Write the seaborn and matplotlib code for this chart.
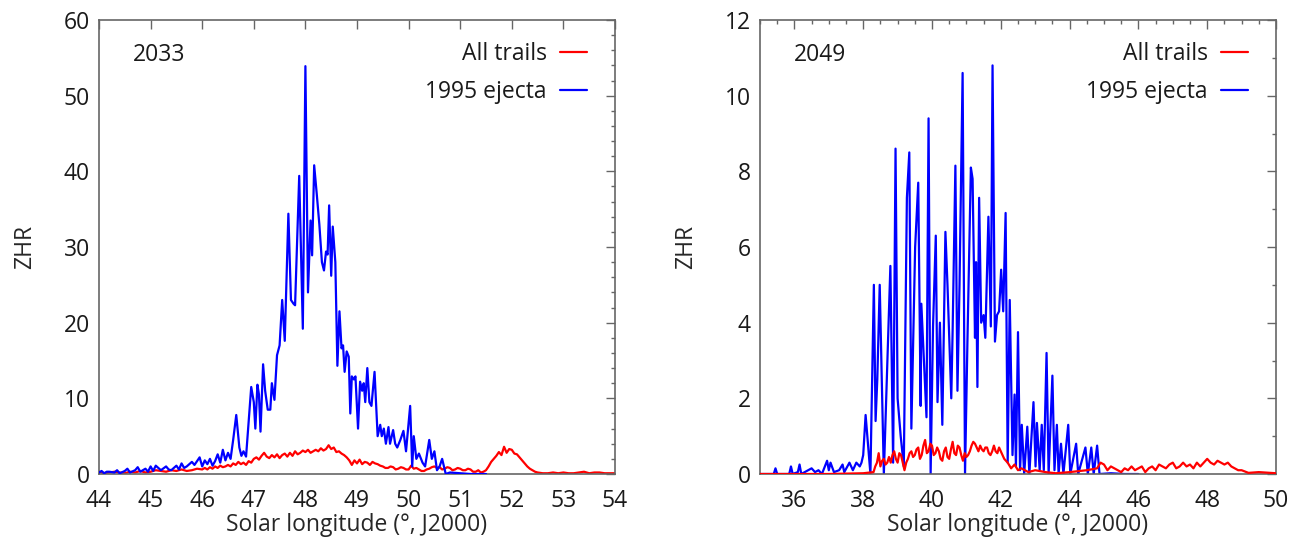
import numpy as np
import pandas as pd
import matplotlib
matplotlib.use("Agg")
import matplotlib.pyplot as plt
from matplotlib.ticker import MultipleLocator
from matplotlib.lines import Line2D
import seaborn as sns

# ---- 2033: 1995 ejecta ----
lon_2033_ejecta = [
    44.00, 44.05, 44.10, 44.15, 44.20, 44.30, 44.35, 44.40, 44.50, 44.55, 44.60,
    44.70, 44.75, 44.80, 44.90, 44.95, 45.00, 45.05, 45.10, 45.15, 45.20, 45.30,
    45.35, 45.40, 45.50, 45.55, 45.60, 45.65, 45.70, 45.80, 45.85, 45.95, 46.00,
    46.05, 46.10, 46.15, 46.20, 46.25, 46.30, 46.35, 46.40, 46.45, 46.50, 46.55,
    46.60, 46.66, 46.72, 46.76, 46.80, 46.85, 46.90, 46.95, 47.00, 47.03, 47.07,
    47.10, 47.13, 47.18, 47.22, 47.27, 47.32, 47.35, 47.40, 47.45, 47.50, 47.55,
    47.60, 47.67, 47.72, 47.77, 47.80, 47.88, 47.95, 48.00, 48.05, 48.10, 48.13,
    48.17, 48.22, 48.27, 48.32, 48.36, 48.40, 48.43, 48.46, 48.50, 48.53, 48.58,
    48.62, 48.66, 48.70, 48.73, 48.76, 48.80, 48.84, 48.87, 48.90, 48.94, 48.97,
    49.02, 49.06, 49.10, 49.13, 49.16, 49.20, 49.24, 49.28, 49.34, 49.40, 49.45,
    49.48, 49.52, 49.56, 49.61, 49.64, 49.70, 49.74, 49.78, 49.84, 49.90, 49.95,
    50.03, 50.07, 50.10, 50.15, 50.20, 50.27, 50.32, 50.40, 50.45, 50.50, 50.55,
    50.60, 50.65, 50.72, 50.80, 51.00, 51.20, 51.50,
]
zhr_2033_ejecta = [
    0.2, 0.4, 0.1, 0.3, 0.3, 0.2, 0.5, 0.1, 0.4, 0.7, 0.2,
    0.5, 0.9, 0.3, 0.7, 0.3, 1.0, 0.4, 1.1, 0.8, 0.5, 1.0,
    0.6, 0.5, 1.1, 0.6, 1.4, 0.8, 1.0, 1.6, 1.2, 2.2, 1.0,
    1.8, 1.3, 2.0, 1.1, 1.7, 2.6, 1.5, 3.2, 1.8, 2.8, 2.0,
    4.5, 7.8, 3.5, 2.4, 3.0, 2.3, 7.0, 11.5, 9.5, 6.0, 11.8,
    10.5, 5.6, 14.5, 11.0, 8.5, 8.5, 12.0, 9.8, 15.7, 17.0, 23.0,
    17.6, 34.4, 23.0, 22.5, 22.3, 39.4, 19.2, 53.9, 24.0, 33.5, 28.9,
    40.8, 37.0, 33.0, 28.0, 26.9, 29.4, 29.0, 35.5, 26.2, 32.7, 28.0,
    14.3, 21.5, 16.6, 17.0, 13.5, 16.2, 15.5, 8.0, 12.9, 12.5, 12.9,
    6.0, 12.2, 11.0, 12.0, 9.5, 14.0, 9.5, 9.0, 13.5, 5.0, 6.5,
    5.0, 6.0, 4.0, 6.2, 4.0, 5.8, 4.0, 3.5, 4.5, 5.7, 3.0,
    9.0, 1.0, 5.0, 2.0, 2.7, 1.5, 1.0, 4.5, 2.0, 3.0, 0.5,
    1.0, 2.0, 0.0, 0.2, 0.1, 0.0, 0.0,
]

# ---- 2033: all trails ----
lon_2033_all = [
    44.00, 44.10, 44.20, 44.30, 44.40, 44.50, 44.60, 44.70, 44.80, 44.90,
    45.00, 45.10, 45.20, 45.30, 45.40, 45.50, 45.60, 45.70, 45.80, 45.90,
    46.00, 46.05, 46.10, 46.15, 46.20, 46.25, 46.30, 46.35, 46.40, 46.45,
    46.50, 46.55, 46.60, 46.65, 46.70, 46.75, 46.80, 46.85, 46.90, 46.95,
    47.00, 47.05, 47.10, 47.15, 47.20, 47.25, 47.30, 47.35, 47.40, 47.45,
    47.50, 47.55, 47.60, 47.65, 47.70, 47.75, 47.80, 47.85, 47.90, 47.95,
    48.00, 48.05, 48.10, 48.15, 48.20, 48.25, 48.30, 48.35, 48.40, 48.45,
    48.50, 48.55, 48.60, 48.65, 48.70, 48.75, 48.80, 48.85, 48.90, 48.95,
    49.00, 49.05, 49.10, 49.15, 49.20, 49.25, 49.30, 49.35, 49.40, 49.45,
    49.50, 49.55, 49.60, 49.65, 49.70, 49.75, 49.80, 49.85, 49.90, 49.95,
    50.00, 50.05, 50.10, 50.15, 50.20, 50.25, 50.30, 50.35, 50.40, 50.45,
    50.50, 50.55, 50.60, 50.65, 50.70, 50.75, 50.80, 50.85, 50.90, 50.95,
    51.00, 51.05, 51.10, 51.15, 51.20, 51.25, 51.30, 51.35, 51.40, 51.45,
    51.50, 51.55, 51.60, 51.65, 51.70, 51.75, 51.80, 51.85, 51.90, 51.95,
    52.00, 52.05, 52.10, 52.15, 52.20, 52.25, 52.30, 52.35, 52.40, 52.45,
    52.50, 52.60, 52.70, 52.80, 52.90, 53.00, 53.10, 53.20, 53.30, 53.40,
    53.50, 53.60, 53.70, 53.80, 53.90, 54.00,
]
zhr_2033_all = [
    0.3, 0.1, 0.2, 0.3, 0.2, 0.1, 0.3, 0.2, 0.4, 0.2,
    0.3, 0.5, 0.4, 0.3, 0.5, 0.4, 0.6, 0.4, 0.5, 0.7,
    0.6, 0.8, 0.6, 0.9, 0.7, 1.0, 0.8, 1.1, 0.9, 1.0,
    1.2, 1.0, 1.4, 1.2, 1.6, 1.3, 1.5, 1.2, 1.7, 1.5,
    2.0, 2.2, 1.9, 2.4, 2.8, 2.3, 2.1, 2.5, 2.2, 2.6,
    2.1, 2.5, 2.7, 2.3, 2.8, 2.4, 3.0, 2.6, 2.8, 3.1,
    2.9, 3.2, 2.8, 3.0, 3.2, 3.0, 3.4, 3.1, 3.3, 3.8,
    3.3, 3.5, 2.9, 3.0, 2.7, 2.5, 2.2, 1.8, 1.2, 1.8,
    1.4, 1.9, 1.3, 1.6, 1.5, 1.2, 1.6, 1.4, 1.3, 1.1,
    1.0, 0.8, 0.8, 1.0, 0.9, 0.6, 0.7, 0.9, 0.8, 0.6,
    0.6, 1.1, 0.7, 0.8, 0.6, 0.4, 0.4, 0.6, 0.7, 0.9,
    1.0, 0.8, 0.9, 0.6, 0.7, 0.9, 0.8, 0.5, 0.6, 0.8,
    0.7, 0.5, 0.5, 0.7, 0.6, 0.3, 0.3, 0.5, 0.2, 0.3,
    0.5, 1.0, 1.6, 2.0, 2.4, 2.9, 2.5, 3.6, 2.8, 3.3,
    3.2, 2.7, 2.6, 2.2, 1.8, 1.4, 1.0, 0.7, 0.5, 0.3,
    0.2, 0.1, 0.1, 0.2, 0.1, 0.2, 0.1, 0.1, 0.2, 0.3,
    0.1, 0.2, 0.2, 0.1, 0.1, 0.1,
]

# ---- 2049: 1995 ejecta ----
lon_2049_ejecta = [
    35.00, 35.40, 35.45, 35.50, 35.85, 35.90, 35.95, 36.10, 36.15, 36.20, 36.40,
    36.50, 36.60, 36.70, 36.80, 36.95, 37.00, 37.05, 37.15, 37.30, 37.40, 37.45,
    37.60, 37.70, 37.80, 37.90, 37.95, 38.00, 38.07, 38.21, 38.31, 38.36, 38.41,
    38.48, 38.60, 38.79, 38.87, 38.94, 39.00, 39.09, 39.18, 39.27, 39.34, 39.40,
    39.51, 39.60, 39.67, 39.69, 39.77, 39.84, 39.90, 39.96, 40.03, 40.11, 40.16,
    40.23, 40.30, 40.39, 40.45, 40.56, 40.60, 40.68, 40.74, 40.80, 40.89, 40.96,
    41.03, 41.13, 41.18, 41.25, 41.28, 41.32, 41.37, 41.43, 41.50, 41.55, 41.64,
    41.71, 41.76, 41.83, 41.89, 41.95, 42.01, 42.07, 42.14, 42.20, 42.26, 42.34,
    42.40, 42.44, 42.50, 42.56, 42.61, 42.68, 42.77, 42.83, 42.95, 43.01, 43.05,
    43.13, 43.19, 43.25, 43.33, 43.39, 43.50, 43.56, 43.63, 43.68, 43.75, 43.82,
    43.96, 44.02, 44.19, 44.25, 44.46, 44.53, 44.63, 44.70, 44.80, 44.87, 45.20,
    45.60, 46.00,
]
zhr_2049_ejecta = [
    0.0, 0.0, 0.15, 0.0, 0.0, 0.2, 0.0, 0.05, 0.25, 0.0, 0.1,
    0.15, 0.05, 0.1, 0.0, 0.35, 0.1, 0.3, 0.05, 0.1, 0.25, 0.05,
    0.3, 0.1, 0.3, 0.2, 0.3, 0.5, 1.56, 0.0, 5.0, 1.4, 2.5,
    5.0, 0.0, 5.5, 0.3, 8.6, 2.0, 1.0, 0.2, 7.3, 8.5, 1.2,
    6.0, 7.7, 1.8, 4.5, 2.9, 1.5, 9.4, 0.0, 3.9, 6.3, 1.9,
    4.0, 1.3, 6.4, 5.0, 2.0, 3.8, 8.15, 2.2, 5.0, 10.6, 0.0,
    3.5, 8.1, 7.8, 3.6, 5.6, 2.3, 7.3, 4.0, 4.2, 3.6, 6.8,
    3.9, 10.8, 3.5, 4.2, 4.3, 5.4, 4.3, 6.9, 0.3, 4.6, 0.5,
    2.1, 0.2, 3.75, 0.1, 1.3, 0.0, 1.25, 0.0, 1.9, 0.2, 1.35,
    0.1, 1.3, 0.1, 3.2, 0.0, 2.6, 0.1, 1.3, 0.0, 0.8, 0.0,
    1.3, 0.0, 0.8, 0.0, 0.7, 0.0, 0.7, 0.0, 0.75, 0.0, 0.02,
    0.0, 0.0,
]

# ---- 2049: all trails ----
lon_2049_all = [
    35.00, 36.00, 37.00, 38.00, 38.30, 38.35, 38.40, 38.45, 38.50, 38.55,
    38.60, 38.65, 38.70, 38.75, 38.80, 38.85, 38.90, 38.95, 39.00, 39.05,
    39.10, 39.15, 39.20, 39.25, 39.30, 39.35, 39.40, 39.45, 39.50, 39.55,
    39.60, 39.65, 39.70, 39.75, 39.80, 39.85, 39.90, 39.95, 40.00, 40.05,
    40.10, 40.15, 40.20, 40.25, 40.30, 40.35, 40.40, 40.45, 40.50, 40.55,
    40.60, 40.65, 40.70, 40.75, 40.80, 40.85, 40.90, 40.95, 41.00, 41.05,
    41.10, 41.15, 41.20, 41.25, 41.30, 41.35, 41.40, 41.45, 41.50, 41.55,
    41.60, 41.65, 41.70, 41.75, 41.80, 41.85, 41.90, 41.95, 42.00, 42.05,
    42.10, 42.15, 42.20, 42.30, 42.40, 42.50, 42.60, 42.80, 43.00, 43.30,
    43.60, 44.00, 44.50, 44.80, 44.90, 45.00, 45.10, 45.20, 45.30, 45.40,
    45.50, 45.60, 45.70, 45.80, 45.90, 46.00, 46.10, 46.20, 46.30, 46.40,
    46.50, 46.60, 46.70, 46.80, 46.90, 47.00, 47.10, 47.20, 47.30, 47.40,
    47.50, 47.60, 47.70, 47.80, 47.90, 48.00, 48.10, 48.20, 48.30, 48.40,
    48.50, 48.60, 48.70, 48.80, 48.90, 49.00, 49.20, 49.50, 50.00,
]
zhr_2049_all = [
    0.0, 0.0, 0.0, 0.02, 0.05, 0.2, 0.3, 0.55, 0.2, 0.35,
    0.4, 0.25, 0.3, 0.45, 0.3, 0.5, 0.6, 0.4, 0.3, 0.55,
    0.5, 0.3, 0.1, 0.3, 0.4, 0.55, 0.6, 0.45, 0.5, 0.65,
    0.7, 0.4, 0.5, 0.75, 0.9, 0.55, 0.6, 0.8, 0.75, 0.5,
    0.55, 0.7, 0.6, 0.4, 0.35, 0.6, 0.7, 0.45, 0.4, 0.65,
    0.85, 0.55, 0.5, 0.75, 0.7, 0.5, 0.35, 0.55, 0.45, 0.5,
    0.6, 0.75, 0.85, 0.8, 0.7, 0.6, 0.75, 0.65, 0.6, 0.7,
    0.7, 0.55, 0.5, 0.6, 0.75, 0.6, 0.55, 0.7, 0.6, 0.5,
    0.4, 0.35, 0.3, 0.15, 0.25, 0.1, 0.15, 0.05, 0.1, 0.05,
    0.02, 0.05, 0.1, 0.15, 0.3, 0.25, 0.1, 0.2, 0.15, 0.1,
    0.05, 0.15, 0.1, 0.2, 0.1, 0.15, 0.2, 0.05, 0.15, 0.2,
    0.1, 0.25, 0.2, 0.15, 0.25, 0.3, 0.15, 0.2, 0.3, 0.2,
    0.25, 0.15, 0.3, 0.2, 0.3, 0.4, 0.3, 0.25, 0.35, 0.3,
    0.25, 0.3, 0.2, 0.15, 0.1, 0.1, 0.03, 0.05, 0.02,
]

SERIES_ALL = "All trails"
SERIES_EJ = "1995 ejecta"
COLORS = {SERIES_ALL: "#ff0000", SERIES_EJ: "#0000ff"}
FS = 16.5

sns.set_theme(style="white")
plt.rcParams["font.family"] = ["Open Sans", "DejaVu Sans"]
plt.rcParams["text.color"] = "#1a1a1a"

fig = plt.figure(figsize=(12.99, 5.52), dpi=100)
ax1 = fig.add_axes([99 / 1299, 78 / 552, 516 / 1299, 454 / 552])
ax2 = fig.add_axes([760 / 1299, 78 / 552, 516 / 1299, 454 / 552])


def draw_panel(ax, year, lon_all, zhr_all, lon_ej, zhr_ej, red_on_top):
    df_all = pd.DataFrame({"lon": lon_all, "zhr": zhr_all})
    df_ej = pd.DataFrame({"lon": lon_ej, "zhr": zhr_ej})
    z_red, z_blue = (3, 2) if red_on_top else (2, 3)
    sns.lineplot(data=df_all, x="lon", y="zhr", ax=ax, color=COLORS[SERIES_ALL],
                 lw=1.6, estimator=None, zorder=z_red)
    sns.lineplot(data=df_ej, x="lon", y="zhr", ax=ax, color=COLORS[SERIES_EJ],
                 lw=1.6, estimator=None, zorder=z_blue)

    handles = [Line2D([], [], color=COLORS[SERIES_ALL], lw=1.6),
               Line2D([], [], color=COLORS[SERIES_EJ], lw=1.6)]
    ax.legend(handles, [SERIES_ALL, SERIES_EJ], loc="upper right",
              bbox_to_anchor=(0.945, 0.952), frameon=False, markerfirst=False,
              fontsize=FS, handlelength=1.15, handletextpad=0.6,
              labelspacing=0.62, borderaxespad=0, borderpad=0)
    ax.text(0.066, 0.923, year, transform=ax.transAxes, fontsize=FS,
            ha="left", va="center")

    ax.set_xlabel("Solar longitude (°, J2000)", fontsize=FS)
    ax.set_ylabel("ZHR", fontsize=FS)
    ax.xaxis.set_label_coords(0.5, -0.087)
    ax.yaxis.set_label_coords(-0.12, 0.5)

    for side in ["left", "right", "top", "bottom"]:
        ax.spines[side].set_visible(True)
        ax.spines[side].set_color("#666666")
        ax.spines[side].set_linewidth(1.2)
    ax.tick_params(which="both", direction="in", top=True, right=True,
                   color="#666666", width=1.0, labelsize=FS,
                   labelcolor="#1a1a1a")
    ax.tick_params(which="major", length=6.5, pad=6.5)
    ax.tick_params(which="minor", length=3.2)
    ax.tick_params(axis="x", which="major", pad=11)


draw_panel(ax1, "2033", lon_2033_all, zhr_2033_all, lon_2033_ejecta,
           zhr_2033_ejecta, red_on_top=False)
ax1.set_xlim(44, 54)
ax1.set_ylim(0, 60)
ax1.xaxis.set_major_locator(MultipleLocator(1))
ax1.yaxis.set_major_locator(MultipleLocator(10))
ax1.yaxis.set_minor_locator(MultipleLocator(2))

draw_panel(ax2, "2049", lon_2049_all, zhr_2049_all, lon_2049_ejecta,
           zhr_2049_ejecta, red_on_top=True)
ax2.set_xlim(35, 50)
ax2.set_ylim(0, 12)
ax2.xaxis.set_major_locator(MultipleLocator(2))
ax2.xaxis.set_minor_locator(MultipleLocator(0.5))
ax2.yaxis.set_major_locator(MultipleLocator(2))
ax2.yaxis.set_minor_locator(MultipleLocator(1))

fig.savefig("out.png", dpi=100, facecolor="white")
